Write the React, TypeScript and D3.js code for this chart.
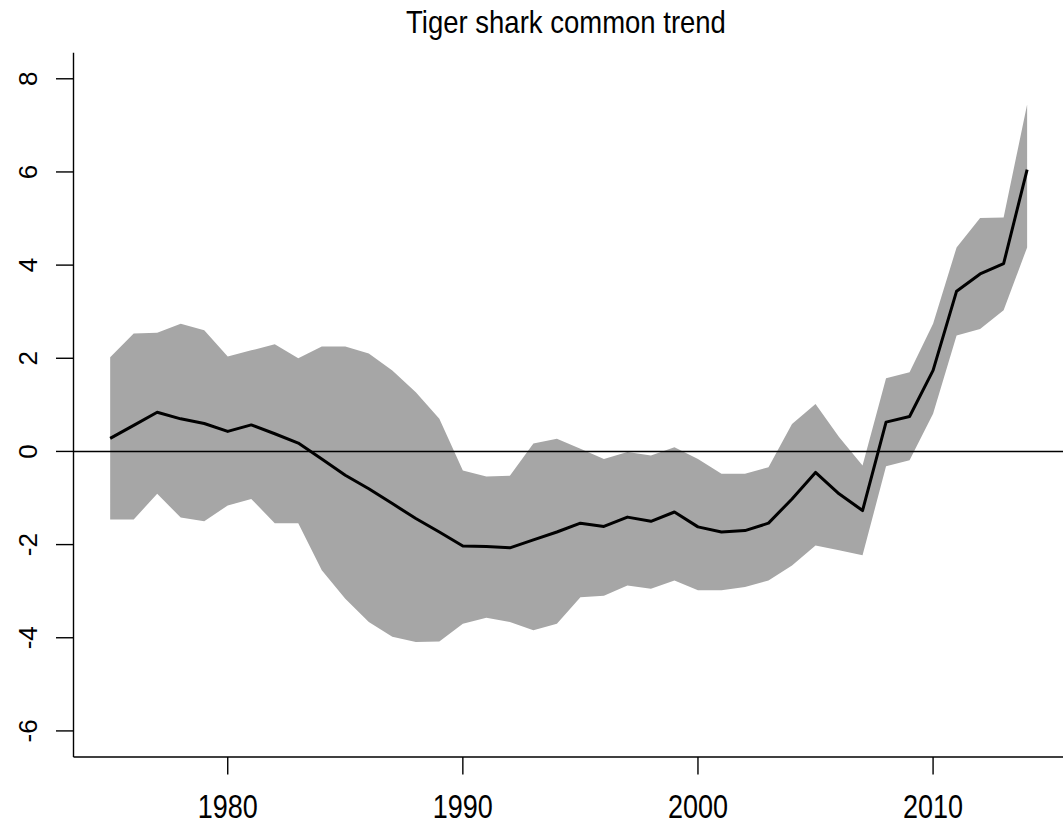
import React from "react";
import * as d3 from "d3";

const years: number[] = d3.range(1975, 2015);
const trend: number[] = [
  0.28, 0.56, 0.84, 0.70, 0.60, 0.43, 0.57, 0.38, 0.18, -0.16,
  -0.51, -0.80, -1.12, -1.44, -1.73, -2.03, -2.04, -2.07, -1.90, -1.73,
  -1.54, -1.61, -1.41, -1.50, -1.30, -1.62, -1.73, -1.70, -1.54, -1.02,
  -0.45, -0.91, -1.27, 0.63, 0.75, 1.74, 3.44, 3.81, 4.03, 6.05,
];
const upper: number[] = [
  2.02, 2.53, 2.55, 2.74, 2.60, 2.04, 2.17, 2.30, 2.00, 2.25,
  2.25, 2.10, 1.74, 1.27, 0.70, -0.41, -0.54, -0.52, 0.17, 0.27,
  0.06, -0.16, -0.01, -0.09, 0.09, -0.16, -0.48, -0.48, -0.34, 0.59,
  1.02, 0.31, -0.30, 1.57, 1.70, 2.74, 4.38, 5.01, 5.02, 7.45,
];
const lower: number[] = [
  -1.46, -1.46, -0.91, -1.42, -1.50, -1.16, -1.02, -1.54, -1.54, -2.55,
  -3.16, -3.66, -3.98, -4.09, -4.08, -3.70, -3.57, -3.66, -3.84, -3.70,
  -3.13, -3.10, -2.88, -2.95, -2.77, -2.98, -2.98, -2.91, -2.77, -2.45,
  -2.02, -2.12, -2.23, -0.32, -0.19, 0.81, 2.49, 2.63, 3.03, 4.38,
];
const xTicks: number[] = [1980, 1990, 2000, 2010];
const yTicks: number[] = [-6, -4, -2, 0, 2, 4, 6, 8];
const title = "Tiger shark common trend";

const W = 1063;
const H = 829;
const left = 73.5;
const right = 1063.8;
const top = 52.7;
const bottom = 757;

export default function App() {
  const xr = [1975, 2014];
  const xpad = (xr[1] - xr[0]) * 0.04;
  const x = d3.scaleLinear().domain([xr[0] - xpad, xr[1] + xpad]).range([left, right]);
  const yr = [-6, 8];
  const ypad = (yr[1] - yr[0]) * 0.04;
  const y = d3.scaleLinear().domain([yr[0] - ypad, yr[1] + ypad]).range([bottom, top]);

  const rows = years.map((yr, i) => ({ yr, m: trend[i], lo: lower[i], hi: upper[i] }));
  const area = d3
    .area<{ yr: number; lo: number; hi: number }>()
    .x((d) => x(d.yr))
    .y0((d) => y(d.lo))
    .y1((d) => y(d.hi));
  const line = d3
    .line<{ yr: number; m: number }>()
    .x((d) => x(d.yr))
    .y((d) => y(d.m));

  const font = "'Liberation Sans', Arial, sans-serif";
  const tickLen = 17.5;

  return (
    <svg
      width={W}
      height={H}
      style={{ position: "absolute", left: 0, top: 0, background: "#fff" }}
      fontFamily={font}
    >
      <rect x={0} y={0} width={W} height={H} fill="#fff" />
      <text
        transform="translate(566,33) scale(1,1.12)"
        textAnchor="middle"
        fontSize={27.5}
        fill="#000"
      >
        {title}
      </text>
      <path d={area(rows) || ""} fill="#A6A6A6" stroke="none" />
      <line x1={left} x2={right} y1={y(0)} y2={y(0)} stroke="#000" strokeWidth={1.4} />
      <path d={line(rows) || ""} fill="none" stroke="#000" strokeWidth={3} strokeLinejoin="round" />
      {/* box bty="l" */}
      <line x1={left} x2={left} y1={top} y2={bottom} stroke="#000" strokeWidth={1.4} />
      <line x1={left} x2={right} y1={bottom} y2={bottom} stroke="#000" strokeWidth={1.4} />
      {xTicks.map((t) => (
        <g key={"x" + t}>
          <line x1={x(t)} x2={x(t)} y1={bottom} y2={bottom + tickLen} stroke="#000" strokeWidth={1.4} />
          <text
            transform={`translate(${x(t)},818) scale(1,1.2)`}
            textAnchor="middle"
            fontSize={27}
            fill="#000"
          >
            {t}
          </text>
        </g>
      ))}
      {yTicks.map((t) => (
        <g key={"y" + t}>
          <line x1={left - tickLen} x2={left} y1={y(t)} y2={y(t)} stroke="#000" strokeWidth={1.4} />
          <text
            transform={`translate(37,${y(t)}) rotate(-90)`}
            textAnchor="middle"
            fontSize={26}
            fill="#000"
          >
            {t}
          </text>
        </g>
      ))}
    </svg>
  );
}
